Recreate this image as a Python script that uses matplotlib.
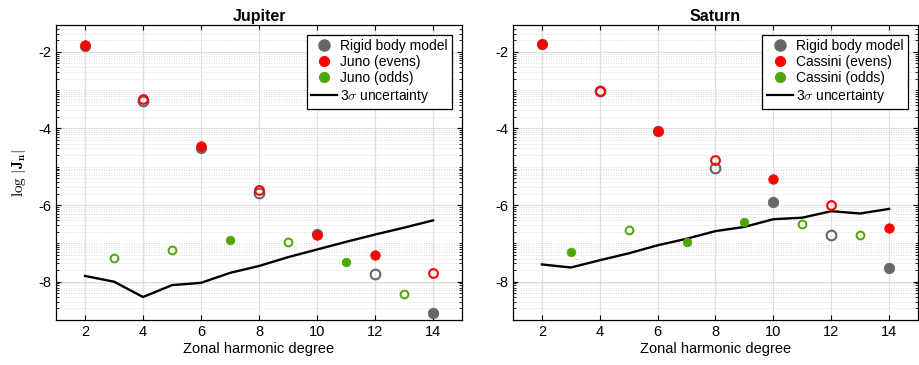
import matplotlib
matplotlib.use("Agg")
import matplotlib.pyplot as plt
from matplotlib.lines import Line2D
from matplotlib.ticker import FixedLocator, LogLocator, NullFormatter
import numpy as np

# log10 |J_n|; open marker = negative coefficient
even_n = [2, 4, 6, 8, 10, 12, 14]
odd_n = [3, 5, 7, 9, 11, 13]
unc_n = [2, 3, 4, 5, 6, 7, 8, 9, 10, 11, 12, 13, 14]

jup_rigid = [-1.85, -3.28, -4.52, -5.68, -6.75, -7.80, -8.81]
jup_rigid_open = [False, True, False, True, False, True, False]
jup_even = [-1.835, -3.23, -4.46, -5.61, -6.77, -7.31, -7.77]
jup_even_open = [False, True, False, True, False, False, True]
jup_odd = [-7.37, -7.16, -6.90, -6.97, -7.48, -8.33]
jup_odd_open = [True, True, False, True, False, True]
jup_unc = [-7.85, -8.00, -8.40, -8.09, -8.03, -7.77, -7.59, -7.36, -7.16, -6.96, -6.77, -6.59, -6.40]

sat_rigid = [-1.79, -3.03, -4.07, -5.03, -5.91, -6.79, -7.63]
sat_rigid_open = [False, True, False, True, False, True, False]
sat_even = [-1.79, -3.03, -4.07, -4.83, -5.33, -6.00, -6.61]
sat_even_open = [False, True, False, True, False, True, False]
sat_odd = [-7.23, -6.65, -6.97, -6.43, -6.50, -6.77]
sat_odd_open = [False, True, False, False, True, True]
sat_unc = [-7.55, -7.63, -7.44, -7.26, -7.05, -6.88, -6.68, -6.57, -6.37, -6.33, -6.16, -6.22, -6.10]

GRAY = "#666666"
RED = "#ff0000"
GREEN = "#4ca60a"

plt.rcParams["font.family"] = ["Liberation Sans", "DejaVu Sans"]
plt.rcParams["mathtext.fontset"] = "cm"


def scatter(ax, n, vals, opens, color, ms, mew):
    for x, v, op in zip(n, vals, opens):
        if op:
            ax.plot(x, 10.0 ** v, "o", ms=ms - 0.6, mfc="none", mec=color, mew=mew, zorder=3)
        else:
            ax.plot(x, 10.0 ** v, "o", ms=ms, mfc=color, mec=color, mew=0.5, zorder=3)


def panel(ax, title, rigid, rigid_open, even, even_open, odd, odd_open, unc, mission):
    ax.set_yscale("log")
    ax.grid(True, which="major", color="#e0e0e0", lw=0.9, ls="-", zorder=0)
    ax.grid(True, which="minor", axis="y", color="#d4d4d4", lw=0.6, ls=(0, (1, 2)), zorder=0)
    ax.set_axisbelow(True)

    scatter(ax, even_n, rigid, rigid_open, GRAY, 7.6, 1.5)
    scatter(ax, even_n, even, even_open, RED, 6.9, 1.5)
    scatter(ax, odd_n, odd, odd_open, GREEN, 6.2, 1.4)
    ax.plot(unc_n, 10.0 ** np.array(unc), color="black", lw=1.7, zorder=2)

    ax.set_xlim(1, 15)
    ax.set_ylim(1e-9, 10 ** -1.3)
    ax.set_xticks([2, 4, 6, 8, 10, 12, 14])
    ax.yaxis.set_major_locator(FixedLocator([1e-8, 1e-6, 1e-4, 1e-2]))
    ax.set_yticklabels(["-8", "-6", "-4", "-2"])
    ax.yaxis.set_minor_locator(LogLocator(base=10, subs=np.arange(1, 10), numticks=100))
    ax.yaxis.set_minor_formatter(NullFormatter())
    ax.tick_params(direction="in", top=True, right=True, labelsize=10.5, length=3.5, width=0.8)
    ax.tick_params(which="minor", direction="in", length=2, width=0.6, right=True)
    for spine in ax.spines.values():
        spine.set_linewidth(0.9)
        spine.set_edgecolor("black")

    ax.set_title(title, fontsize=11.5, fontweight="bold", pad=3)
    ax.set_xlabel("Zonal harmonic degree", fontsize=10.5, labelpad=2)

    handles = [
        Line2D([], [], ls="none", marker="o", ms=8, mfc=GRAY, mec=GRAY),
        Line2D([], [], ls="none", marker="o", ms=7, mfc=RED, mec=RED),
        Line2D([], [], ls="none", marker="o", ms=7, mfc=GREEN, mec=GREEN),
        Line2D([], [], color="black", lw=1.6),
    ]
    labels = ["Rigid body model", f"{mission} (evens)", f"{mission} (odds)", r"3$\sigma$ uncertainty"]
    leg = ax.legend(handles, labels, loc="upper right", fontsize=10, frameon=True, fancybox=False,
                    borderpad=0.3, labelspacing=0.15, handlelength=1.9, handletextpad=0.2,
                    borderaxespad=0.6, bbox_to_anchor=(0.995, 0.995))
    leg.get_frame().set_edgecolor("black")
    leg.get_frame().set_linewidth(0.9)
    leg.get_frame().set_alpha(1)


fig = plt.figure(figsize=(9.2, 3.65), dpi=100)
ax1 = fig.add_axes([0.0609, 0.1233, 0.4413, 0.8082])
ax2 = fig.add_axes([0.5576, 0.1233, 0.4402, 0.8082])

panel(ax1, "Jupiter", jup_rigid, jup_rigid_open, jup_even, jup_even_open,
      jup_odd, jup_odd_open, jup_unc, "Juno")
panel(ax2, "Saturn", sat_rigid, sat_rigid_open, sat_even, sat_even_open,
      sat_odd, sat_odd_open, sat_unc, "Cassini")

ax1.set_ylabel(r"$\log\,|\mathbf{J_n}|$", fontsize=11, labelpad=7)

fig.savefig("out.png", dpi=100)
